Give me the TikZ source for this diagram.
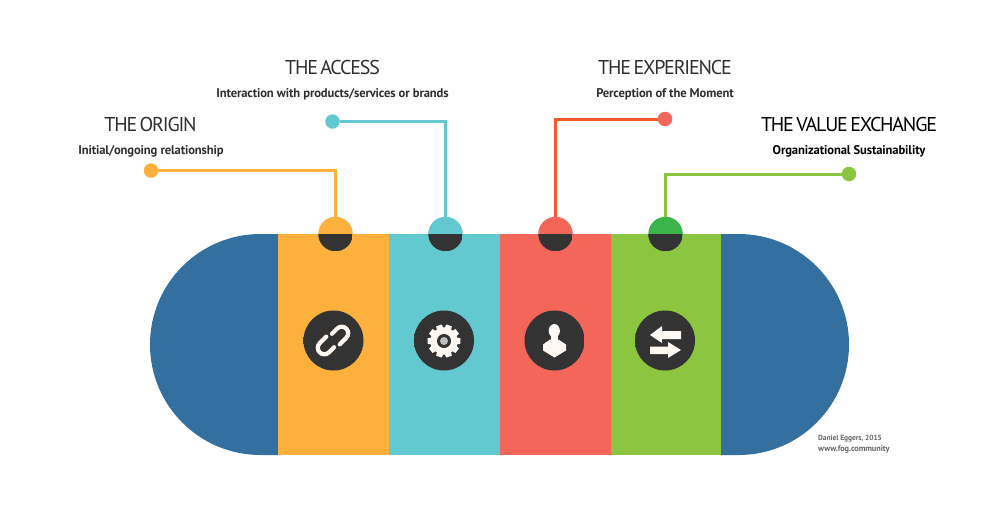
\documentclass[tikz,border=0pt]{standalone}
\usepackage{fontspec}
\setmainfont{PT Sans}
\newfontfamily\titlefont[LetterSpace=-6,WordSpace=0.6]{PT Sans}
\newfontfamily\subfont[LetterSpace=-1]{PT Sans Bold}
\definecolor{cblue}{HTML}{33709F}
\definecolor{corange}{HTML}{FDB03B}
\definecolor{cteal}{HTML}{62C9D1}
\definecolor{cred}{HTML}{F4665A}
\definecolor{cgreen}{HTML}{8CC540}
\definecolor{cleafgreen}{HTML}{39B54A}
\definecolor{cline}{HTML}{F15A29}
\definecolor{cdark}{HTML}{333333}
\definecolor{cink}{HTML}{2F2F2F}
\definecolor{cgrey}{HTML}{666666}
\definecolor{cicon}{HTML}{FFF9F5}
\definecolor{crim}{HTML}{1F1F1F}
\pgfdeclareradialshading{discshade}{\pgfpoint{0bp}{0bp}}{
  color(0bp)=(cdark); color(38bp)=(cdark); color(45bp)=(crim); color(50bp)=(crim)}
\tikzset{
  x=1pt,y=-1pt,
  dot/.style={circle,inner sep=0pt,minimum size=14.5pt},
  tab/.style={circle,inner sep=0pt,minimum size=34.5pt,
    path picture={\fill[cdark] (path picture bounding box.west |- 0,0) ++(0,0) rectangle (path picture bounding box.south east);}},
  lead/.style={line width=3pt,line join=miter},
  disc/.style={circle,inner sep=0pt,minimum size=60pt,shading=discshade},
  title/.style={font=\titlefont\fontsize{20}{24}\selectfont,text=cink,inner sep=0pt},
  sub/.style={font=\subfont\fontsize{12.6}{15}\selectfont,text=cink,inner sep=0pt},
  credit/.style={font=\subfont\fontsize{7.5}{9}\selectfont,text=cgrey,inner sep=0pt,anchor=west},
  ico/.style={fill=cicon,draw=none},
  icoline/.style={draw=cicon,line width=4.2pt,line cap=round},
}
\begin{document}
\begin{tikzpicture}
\useasboundingbox (0,0) rectangle (1000,504);
% pill body
\fill[cblue] (278,234) -- (260.5,234) arc[start angle=270,end angle=90,radius=110.5] -- (278,455) -- cycle;
\fill[cblue] (721,234) -- (738.5,234) arc[start angle=270,end angle=450,radius=110.5] -- (721,455) -- cycle;
\fill[corange] (278,234) rectangle (389,455);
\fill[cteal] (389,234) rectangle (500,455);
\fill[cred] (500,234) rectangle (610.5,455);
\fill[cgreen] (610.5,234) rectangle (721,455);
% tabs
\node[tab,fill=corange] (tabA) at (335.5,234) {};
\node[tab,fill=cteal] (tabB) at (445.5,234) {};
\node[tab,fill=cred] (tabC) at (555.5,234) {};
\node[tab,fill=cleafgreen] (tabD) at (665.5,234) {};
% leader dots
\node[dot,fill=corange] (dotA) at (151,170.5) {};
\node[dot,fill=cteal] (dotB) at (332.5,121.5) {};
\node[dot,fill=cred] (dotC) at (665,119) {};
\node[dot,fill=cgreen] (dotD) at (849,174) {};
\draw[lead,corange] (dotA) -| (tabA);
\draw[lead,cteal] (dotB) -| (tabB);
\draw[lead,cline] (dotC) -| (tabC);
\draw[lead,cgreen] (dotD) -| (tabD);
% discs
\node[disc] (discA) at (333.5,340.5) {};
\node[disc] (discB) at (444,340.5) {};
\node[disc] (discC) at (554.5,340.5) {};
\node[disc] (discD) at (665,340.5) {};
% link icon
\begin{scope}[shift={(333,340.5)},rotate=45]
\draw[icoline] (2,7.5) -- (11.3,7.5) arc[start angle=90,end angle=-90,radius=6.5] -- (4,-5.5);
\draw[icoline] (-2,-7.5) -- (-11.3,-7.5) arc[start angle=270,end angle=90,radius=6.5] -- (-4,5.5);
\end{scope}
% gear icon
\begin{scope}[shift={(444,341)}]
\foreach \a in {18,54,...,342}{
  \fill[ico,rotate=\a] (-3.6,-11) -- (-2.9,-16.4) -- (2.9,-16.4) -- (3.6,-11) -- cycle;
}
\fill[ico] (0,0) circle[radius=13.6];
\fill[cdark] (0,0) circle[radius=7];
\fill[black!25] (0,0) circle[radius=4];
\end{scope}
% person icon
\fill[ico] (554.3,330.8) ellipse[x radius=5.6,y radius=6.8];
\fill[ico] (551,335) rectangle (557.5,341);
\fill[ico] (550,339.5) -- (558.5,339.5) -- (566,344.5) -- (566,350.5) -- (554.5,357.5) -- (543,350.5) -- (543,344.5) -- cycle;
% exchange icon
\fill[ico] (650,335) -- (662,326) -- (662,331) -- (681,331) -- (681,339) -- (662,339) -- (662,343) -- cycle;
\fill[ico] (681,350) -- (668,342) -- (668,346.7) -- (650,346.7) -- (650,354) -- (668,354) -- (668,358) -- cycle;
% labels
\node[title] (titleA) at (150.5,124) {THE ORIGIN};
\node[sub] (subA) at (151,151.5) {Initial/ongoing relationship};
\node[title] (titleB) at (332.5,67.5) {THE ACCESS};
\node[sub] (subB) at (332.5,94.5) {Interaction with products/services or brands};
\node[title] (titleC) at (665,67.5) {THE EXPERIENCE};
\node[sub] (subC) at (665,94.5) {Perception of the Moment};
\node[title,text=black] (titleD) at (849,124) {THE VALUE EXCHANGE};
\node[sub,text=black] (subD) at (849,151.5) {Organizational Sustainability};
\node[credit] (creditA) at (818,438.5) {Daniel Eggers, 2015};
\node[credit,font=\subfont\fontsize{8.3}{9}\selectfont] (creditB) at (818,449) {www.fog.community};
\end{tikzpicture}
\end{document}
